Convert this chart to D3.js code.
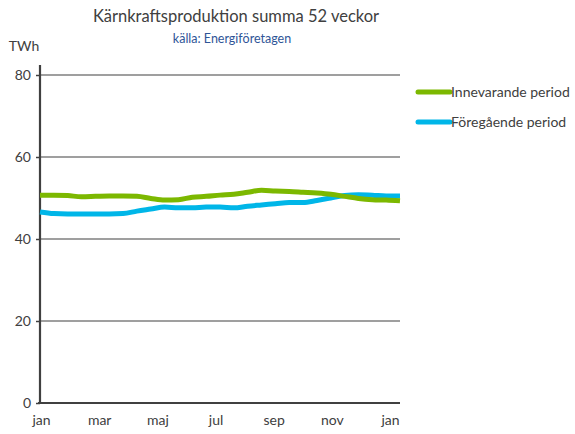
<!DOCTYPE html>
<html lang="sv">
<head>
<meta charset="utf-8">
<title>Kärnkraftsproduktion</title>
<script src="https://d3js.org/d3.v7.min.js"></script>
<style>
  body { margin: 0; background: #fff; }
  text { font-family: Lato, "Open Sans", sans-serif; fill: #404040; }
</style>
</head>
<body>
<script>
// week index (every 2nd week, jan -> jan)
const weeks = d3.range(0, 53, 2);
const innevarande = [50.7, 50.7, 50.6, 50.3, 50.4, 50.5, 50.5, 50.4, 49.9, 49.5, 49.6, 50.2, 50.4, 50.7,
  50.9, 51.4, 51.9, 51.7, 51.6, 51.4, 51.2, 50.9, 50.4, 49.9, 49.6, 49.5, 49.3];
const foregaende = [46.6, 46.2, 46.1, 46.1, 46.1, 46.1, 46.2, 46.8, 47.3, 47.8, 47.6, 47.6, 47.8, 47.8,
  47.6, 48.0, 48.3, 48.6, 48.9, 48.9, 49.4, 50.0, 50.6, 50.8, 50.7, 50.5, 50.5];
const monthLabels = ['jan', 'mar', 'maj', 'jul', 'sep', 'nov', 'jan'];
const yTicks = [0, 20, 40, 60, 80];

const w = 575, h = 434;
const pLeft = 40, pRight = 400, pTop = 75, pBottom = 403;

const svg = d3.select('body').append('svg')
  .attr('width', w)
  .attr('height', h);

const x = d3.scaleLinear().domain([0, 52]).range([pLeft, pRight]);
const y = d3.scaleLinear().domain([0, 80]).range([pBottom, pTop]);
const xLab = d3.scalePoint().domain(d3.range(monthLabels.length)).range([41, 390]);

// titles
svg.append('text')
  .attr('x', 236).attr('y', 22)
  .attr('text-anchor', 'middle')
  .style('font-size', '16.5px')
  .text('Kärnkraftsproduktion  summa 52 veckor');
svg.append('text')
  .attr('x', 232).attr('y', 43)
  .attr('text-anchor', 'middle')
  .style('font-size', '12.5px')
  .style('fill', '#2f5597')
  .text('källa: Energiföretagen');
svg.append('text')
  .attr('x', 24).attr('y', 51)
  .attr('text-anchor', 'middle')
  .style('font-size', '14px')
  .text('TWh');

// grid
svg.append('g')
  .selectAll('line')
  .data(yTicks.filter(d => d > 0))
  .enter().append('line')
  .attr('x1', pLeft).attr('x2', pRight)
  .attr('y1', d => y(d)).attr('y2', d => y(d))
  .attr('stroke', '#404040')
  .attr('stroke-width', 1.2);

// y axis
const yAxis = d3.axisLeft(y).tickValues(yTicks).tickSize(4).tickPadding(5);
const gy = svg.append('g')
  .attr('transform', `translate(${pLeft},0)`)
  .call(yAxis);
gy.select('.domain').remove();
gy.selectAll('.tick line').attr('stroke', '#404040').attr('stroke-width', 1.5);
gy.selectAll('.tick text').style('font-size', '14px').style('font-family', 'Lato, sans-serif').attr('fill', '#404040');
svg.append('line')
  .attr('x1', pLeft).attr('x2', pLeft)
  .attr('y1', pTop - 10).attr('y2', pBottom + 1)
  .attr('stroke', '#404040').attr('stroke-width', 2.2);

// x axis labels
const gx = svg.append('g')
  .attr('transform', `translate(0,${pBottom})`)
  .call(d3.axisBottom(xLab).tickSize(0).tickPadding(12).tickFormat(i => monthLabels[i]));
gx.select('.domain').remove();
gx.selectAll('.tick text').style('font-size', '14px').style('font-family', 'Lato, sans-serif').attr('fill', '#404040');
svg.append('line')
  .attr('x1', pLeft - 2).attr('x2', pRight)
  .attr('y1', pBottom).attr('y2', pBottom)
  .attr('stroke', '#404040').attr('stroke-width', 2.2);

// series
const series = [
  { name: 'Innevarande period', values: innevarande, color: '#7cb800' },
  { name: 'Föregående period', values: foregaende, color: '#00b6e8' }
];
const line = d3.line()
  .x((d, i) => x(weeks[i]))
  .y(d => y(d))
  .curve(d3.curveMonotoneX);

svg.selectAll('.series')
  .data(series.slice().reverse())
  .enter().append('path')
  .attr('class', 'series')
  .attr('d', d => line(d.values))
  .attr('fill', 'none')
  .attr('stroke', d => d.color)
  .attr('stroke-width', 5);

// legend
const legend = svg.append('g')
  .selectAll('g')
  .data(series)
  .enter().append('g')
  .attr('transform', (d, i) => `translate(418,${92 + i * 30})`);
legend.append('line')
  .attr('x1', 0).attr('x2', 32)
  .attr('stroke', d => d.color)
  .attr('stroke-width', 5)
  .attr('stroke-linecap', 'round');
legend.append('text')
  .attr('x', 33).attr('y', 5)
  .style('font-size', '14px')
  .text(d => d.name);
</script>
</body>
</html>
